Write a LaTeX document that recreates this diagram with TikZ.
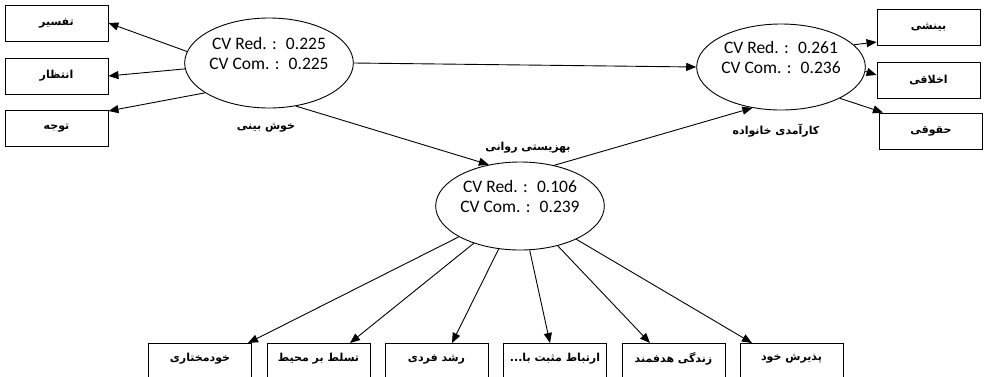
\documentclass[tikz,border=0pt]{standalone}
\usepackage{fontspec}
\setmainfont{Carlito}
\newfontfamily\fa[Script=Arabic]{DejaVu Sans}
\TeXXeTstate=1
\usetikzlibrary{shapes.geometric,arrows.meta}
\tikzset{
  lv/.style={draw,line width=0.9pt,ellipse,inner sep=0pt,align=center,
    font=\fontsize{17.5}{20}\selectfont},
  ind/.style={draw,line width=0.9pt,minimum width=103pt,minimum height=36pt,inner sep=0pt,
    font=\fa\bfseries\fontsize{11}{13}\selectfont},
  lbl/.style={font=\fa\bfseries\fontsize{11}{13}\selectfont,inner sep=0pt},
  arr/.style={line width=0.9pt,-{Triangle[length=10pt,width=8pt]}}
}
\begin{document}
\begin{tikzpicture}[x=1pt,y=-1pt]
\useasboundingbox (0,0) rectangle (985,376);
\clip (0,0) rectangle (985,376);
% latent variables
\node[lv,minimum width=152pt,minimum height=90pt] (opt) at (269,63) {CV Red. : \ 0.225\\CV Com. : \ 0.225\\[-6pt]\strut};
\node[lv,minimum width=142pt,minimum height=86pt] (fam) at (781,67) {CV Red. : \ 0.261\\CV Com. : \ 0.236\\[-6pt]\strut};
\node[lv,minimum width=130pt,minimum height=88pt] (psy) at (520,206) {CV Red. : \ 0.106\\CV Com. : \ 0.239\\[-6pt]\strut};
\node[lbl] (lopt) at (266,128) {\beginR خوش بینی\endR};
\node[lbl] (lfam) at (776,131) {\beginR کارآمدی خانواده\endR};
\node[lbl] (lpsy) at (528,148) {\beginR بهزیستی روانی\endR};
% left indicators
\node[ind] (t1) at (56.5,23) {\beginR تفسیر\endR};
\node[ind] (t2) at (56.5,76) {\beginR انتظار\endR};
\node[ind] (t3) at (56.5,128) {\beginR توجه\endR};
% right indicators
\node[ind] (r1) at (928.5,27) {\beginR بینشی\endR};
\node[ind] (r2) at (928.5,80) {\beginR اخلاقی\endR};
\node[ind] (r3) at (931,131) {\beginR حقوقی\endR};
% bottom indicators
\node[ind,anchor=north,minimum height=50pt] (b1) at (200,343) {};
\node[ind,anchor=north,minimum height=50pt] (b2) at (318.5,343) {};
\node[ind,anchor=north,minimum height=50pt] (b3) at (436.5,343) {};
\node[ind,anchor=north,minimum height=50pt] (b4) at (555,343) {};
\node[ind,anchor=north,minimum height=50pt] (b5) at (673.5,343) {};
\node[ind,anchor=north,minimum height=50pt] (b6) at (791.5,343) {};
\node[lbl] at (200,359) {\beginR خودمختاری\endR};
\node[lbl] at (318.5,359) {\beginR تسلط بر محیط\endR};
\node[lbl] at (436.5,359) {\beginR رشد فردی\endR};
\node[lbl] at (555,359) {\beginR ارتباط مثبت با...\endR};
\node[lbl] at (673.5,359) {\beginR زندگی هدفمند\endR};
\node[lbl] at (791.5,359) {\beginR پذیرش خود\endR};
% arrows
\draw[arr] (opt.172) -- (t1.east);
\draw[arr] (opt.184) -- (t2.east);
\draw[arr] (opt.205) -- (t3.east |- 0,111);
\draw[arr] (opt.east) -- (fam.west);
\draw[arr] (opt.-58) -- (psy.127);
\draw[arr] (psy.50) -- (fam.-125);
\draw[arr] (fam.17) -- (r1.west |- 0,42);
\draw[arr] (fam.-3) -- (r2.west |- 0,75);
\draw[arr] (fam.-28) -- (r3.north west -| 883,0);
\draw[arr] (psy) -- (b1.north -| 248,0);
\draw[arr] (psy) -- (b2.north -| 350,0);
\draw[arr] (psy) -- (b3.north -| 452,0);
\draw[arr] (psy) -- (b4.north -| 550,0);
\draw[arr] (psy) -- (b5.north -| 650,0);
\draw[arr] (psy) -- (b6.north -| 752,0);
\end{tikzpicture}
\end{document}
